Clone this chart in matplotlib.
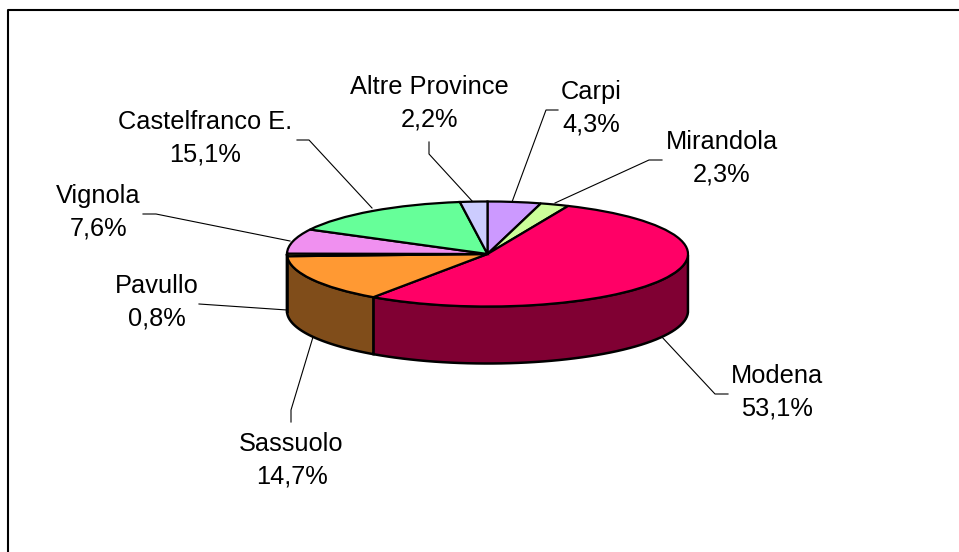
import matplotlib
matplotlib.use('Agg')
import matplotlib.pyplot as plt
import numpy as np

names = ['Carpi', 'Mirandola', 'Modena', 'Sassuolo', 'Pavullo', 'Vignola', 'Castelfranco E.', 'Altre Province']
values = [4.3, 2.3, 53.1, 14.7, 0.8, 7.6, 15.1, 2.2]
colors = ['#CC99FF', '#CCFF99', '#FF0066', '#FF9933', '#FFFF66', '#F090F0', '#66FF99', '#CCCCFF']
side_colors = ['#664D80', '#668050', '#800033', '#804D1A', '#808033', '#804880', '#33804D', '#666680']

# label centre and leader line, in pixels of the picture
label_xy = [(591, 108.5), (722, 158), (777, 392), (291.5, 460), (157, 302), (98.5, 212), (205.5, 138), (429.5, 103)]
leader_px = [
    [(558, 110), (546, 110), (512, 202)],
    [(662, 160), (649, 160), (555, 203)],
    [(728, 394), (715, 394), (661, 336)],
    [(291, 422), (291, 410), (313, 337)],
    [(199, 304), (287, 310)],
    [(143, 214), (156, 214), (290, 241)],
    [(297, 140), (309, 140), (372, 208)],
    [(429, 142), (429, 154), (473, 202)],
]

W, H = 959, 552
cx, cy, rx, ry, depth = 487.5, 254, 200.5, 52.5, 57


def px(p):
    return (p[0] - cx) / rx, (cy - p[1]) / ry


fig = plt.figure(figsize=(W / 100, H / 100), dpi=100)
ax = fig.add_axes([0, 0, 1, 1])

wedges, _ = ax.pie(values, colors=colors, startangle=90, counterclock=False, normalize=True,
                   wedgeprops=dict(edgecolor='black', linewidth=1.6), radius=1)
for w in wedges:
    w.set_zorder(5)

# side wall, only the front half of the pie shows
d = depth / ry
edges = 360 * np.cumsum([0] + values) / sum(values)
for i in range(len(values)):
    a = np.linspace(edges[i], edges[i + 1], 80)
    a = a[(a >= 90) & (a <= 270)]
    if len(a) < 2:
        continue
    xs = np.sin(np.radians(a))
    ys = np.cos(np.radians(a))
    ax.fill(np.r_[xs, xs[::-1]], np.r_[ys, ys[::-1] - d], facecolor=side_colors[i],
            edgecolor='black', linewidth=1.8, zorder=3)

for name, v, xy, pts in zip(names, values, label_xy, leader_px):
    line = np.array([px(p) for p in pts])
    ax.plot(line[:, 0], line[:, 1], color='black', lw=0.8, zorder=2)
    pct = f'{v:.1f}'.replace('.', ',') + '%'
    ax.text(*px(xy), name + '\n' + pct, ha='center', va='center', fontsize=18.3,
            family='Liberation Sans', linespacing=1.44, zorder=6)

ax.set_aspect('auto')
ax.set_xlim(px((0, 0))[0], px((W, 0))[0])
ax.set_ylim(px((0, H))[1], px((0, 0))[1])

# chart area frame
ax.plot(*zip(px((7.5, H)), px((7.5, 10.5)), px((W, 10.5))), color='black', lw=1.5)

fig.savefig('out.png', dpi=100, facecolor='white')
